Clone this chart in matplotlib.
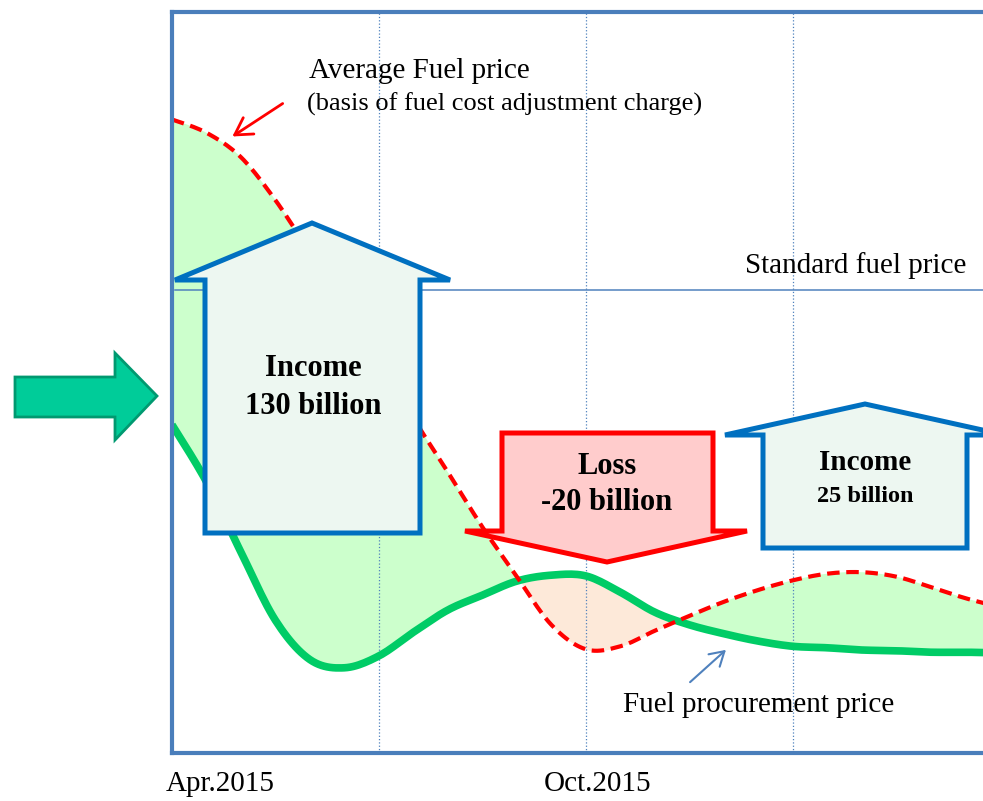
import numpy as np
import matplotlib
matplotlib.use("Agg")
import matplotlib.pyplot as plt
from matplotlib.patches import Polygon, FancyArrowPatch
from matplotlib.transforms import Affine2D

W, H = 983, 801

# months after Apr.2015, price index (arbitrary units)
months = [0, 0.5, 1, 1.5, 2, 2.5, 3, 3.5, 4, 4.5, 5, 5.5, 6, 6.5, 7, 7.5,
          8, 8.5, 9, 9.5, 10, 10.5, 11, 11.5, 12]
avg_price = [85.5, 83.7, 80.4, 74.6, 67.6, 60.9, 53.4, 45.2, 37.9, 30.5, 23.8, 17.3,
             14.0, 14.4, 16.5, 18.5, 20.4, 22.0, 23.3, 24.2, 24.4, 23.8, 22.4, 20.9, 19.7]
proc_price = [44.3, 36.6, 27.1, 17.9, 12.6, 11.5, 13.1, 16.3, 19.3, 21.3, 23.2, 24.0,
              23.9, 21.7, 19.0, 17.3, 16.1, 15.1, 14.4, 14.2, 13.9, 13.8, 13.6, 13.6, 13.5]
standard_price = 62.5
grid_months = [3, 6, 9]
tick_labels = ["Apr.2015", "Oct.2015"]

plt.rcParams['font.family'] = ['Liberation Serif', 'DejaVu Serif']


def smooth(x, y, n=12):
    # catmull-rom through the read points, for a rounder line
    x = np.asarray(x, float)
    y = np.asarray(y, float)
    xs, ys = [], []
    for i in range(len(x) - 1):
        i0, i1, i2, i3 = max(i - 1, 0), i, i + 1, min(i + 2, len(x) - 1)
        t = np.linspace(0, 1, n, endpoint=False)
        for arr, out in ((x, xs), (y, ys)):
            p0, p1, p2, p3 = arr[i0], arr[i1], arr[i2], arr[i3]
            out.extend(0.5 * (2 * p1 + (-p0 + p2) * t + (2 * p0 - 5 * p1 + 4 * p2 - p3) * t ** 2
                              + (-p0 + 3 * p1 - 3 * p2 + p3) * t ** 3))
    xs.append(x[-1])
    ys.append(y[-1])
    return np.array(xs), np.array(ys)


fig = plt.figure(figsize=(W / 100, H / 100), dpi=100)
# pixel coords (origin top-left) for the decorations
px = Affine2D().scale(1 / W, -1 / H).translate(0, 1) + fig.transFigure

ax = fig.add_axes([172 / W, 48 / H, 1 - 172 / W + 0.02, 741 / H])
ax.set_xlim(0, (W - 172) / 69 + 0.29)
ax.set_ylim(0, 100)
ax.set_xticks([])
ax.set_yticks([])
for s in ['left', 'top', 'bottom']:
    ax.spines[s].set_color('#4a7ebb')
    ax.spines[s].set_linewidth(3)
ax.spines['right'].set_visible(False)

sx, sr = smooth(months, avg_price)
_, sg = smooth(months, proc_price)

ax.fill_between(sx, sr, sg, where=sr >= sg, interpolate=True, color='#ccffcc', lw=0, zorder=1)
ax.fill_between(sx, sr, sg, where=sr < sg, interpolate=True, color='#fde9d9', lw=0, zorder=1)

for g in grid_months:
    ax.axvline(g, color='#4f81bd', lw=0.9, ls=':', zorder=1.5)
ax.axhline(standard_price, xmin=0.004, color='#4f81bd', lw=1.1, zorder=1.5)

ax.plot(sx, sg, color='#00cc66', lw=5.5, solid_capstyle='butt', zorder=2)
ax.plot(sx, sr, color='#ff0000', lw=3, dashes=(3, 1.6), zorder=2.5)


def shape(pts, fc, ec, lw):
    p = Polygon(pts, closed=True, facecolor=fc, edgecolor=ec, lw=lw,
                transform=px, joinstyle='miter', zorder=5)
    fig.add_artist(p)


# big arrows
shape([(205, 533), (205, 280), (175, 280), (312, 223), (450, 280), (420, 280), (420, 533)],
      '#edf7f1', '#0070c0', 3.6)
shape([(502, 433), (713, 433), (713, 531), (747, 531), (607, 562), (465, 531), (502, 531)],
      '#ffcccc', '#ff0000', 3.6)
shape([(763, 548), (763, 435), (725, 435), (865, 404), (1005, 435), (967, 435), (967, 548)],
      '#edf7f1', '#0070c0', 3.6)
shape([(15, 377), (115, 377), (115, 353), (157, 396), (115, 440), (115, 417), (15, 417)],
      '#00cc99', '#009970', 2)


def label(x, y, s, size, ha='center', weight='normal'):
    fig.text(x, y, s, transform=px, fontsize=size, ha=ha, va='center',
             fontweight=weight, zorder=6)


label(313, 368, "Income", 22, weight='bold')
label(313, 407, "130 billion", 22, weight='bold')
label(607, 466, "Loss", 22, weight='bold')
label(607, 502, "-20 billion", 22, weight='bold')
label(865, 462, "Income", 21, weight='bold')
label(865, 497, "25 billion", 17.5, weight='bold')

label(309, 71, "Average Fuel price", 21, ha='left')
label(307, 104, "(basis of fuel cost adjustment charge)", 19, ha='left')
label(745, 266, "Standard fuel price", 21, ha='left')
label(623, 705, "Fuel procurement price", 21, ha='left')
label(220, 784, tick_labels[0], 21)
label(598, 784, tick_labels[1], 21)

# pointer arrows
fig.add_artist(FancyArrowPatch(
    (285, 102), (230, 138), transform=px, arrowstyle='->,head_length=12,head_width=7',
    color='#ff0000', lw=2, mutation_scale=1, zorder=6))
fig.add_artist(FancyArrowPatch(
    (688, 684), (728, 648), transform=px, arrowstyle='->,head_length=10,head_width=6',
    color='#4f81bd', lw=1.5, mutation_scale=1, zorder=6))

fig.savefig("out.png", dpi=100)
